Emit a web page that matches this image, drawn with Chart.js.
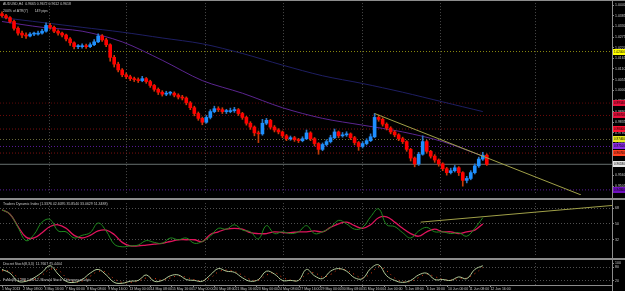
<!DOCTYPE html>
<html>
<head>
<meta charset="utf-8">
<script src="https://cdn.jsdelivr.net/npm/chart.js"></script>
<style>
  html, body { margin: 0; padding: 0; background: #000; }
  #wrap { position: relative; width: 625px; height: 291px; background: #000; overflow: hidden; }
  canvas { position: absolute; left: 0; }
  .sep { position: absolute; left: 0; width: 625px; height: 2px; background: #8c8c8c; }
  .vline { position: absolute; left: 612px; top: 0; width: 1px; height: 291px; background: #8c8c8c; }
</style>
</head>
<body>
<div id="wrap">
  <canvas id="main" width="625" height="198" style="top:0"></canvas>
  <canvas id="tdi" width="625" height="58" style="top:200px"></canvas>
  <canvas id="stoch" width="625" height="31" style="top:260px"></canvas>
  <div class="sep" style="top:0;height:1px"></div>
  <div class="sep" style="top:198px"></div>
  <div class="sep" style="top:258px"></div>
  <div class="vline"></div>
</div>
<script>
// ---- data (AUDUSD H4) ----
const firstOpen = 1.0395;
const closes = [
  1.0385,1.0375,1.0355,1.0320,1.0295,1.0285,1.0280,1.0290,1.0290,1.0295,
  1.0305,1.0335,1.0325,1.0305,1.0295,1.0285,1.0265,1.0245,1.0225,1.0225,
  1.0230,1.0225,1.0235,1.0250,1.0280,1.0260,1.0235,1.0170,1.0135,1.0105,
  1.0080,1.0070,1.0060,1.0055,1.0050,1.0060,1.0045,1.0025,1.0005,0.9990,
  0.9980,0.9985,0.9985,0.9975,0.9965,0.9960,0.9935,0.9910,0.9880,0.9855,
  0.9835,0.9860,0.9890,0.9905,0.9900,0.9890,0.9890,0.9895,0.9900,0.9880,
  0.9860,0.9830,0.9810,0.9780,0.9775,0.9830,0.9845,0.9810,0.9795,0.9785,
  0.9765,0.9750,0.9755,0.9745,0.9740,0.9750,0.9780,0.9750,0.9725,0.9695,
  0.9720,0.9735,0.9755,0.9785,0.9765,0.9770,0.9775,0.9755,0.9730,0.9710,
  0.9725,0.9740,0.9760,0.9860,0.9850,0.9825,0.9805,0.9785,0.9770,0.9750,
  0.9735,0.9695,0.9650,0.9620,0.9670,0.9735,0.9685,0.9660,0.9640,0.9620,
  0.9595,0.9575,0.9585,0.9600,0.9575,0.9535,0.9545,0.9575,0.9610,0.9645,
  0.9665,0.9618
];
const highs = [
  1.0405,1.0392,1.0380,1.0362,1.0328,1.0305,1.0296,1.0298,1.0300,1.0306,
  1.0315,1.0348,1.0345,1.0332,1.0312,1.0300,1.0290,1.0272,1.0250,1.0236,
  1.0240,1.0238,1.0245,1.0262,1.0292,1.0288,1.0268,1.0240,1.0180,1.0145,
  1.0112,1.0090,1.0078,1.0068,1.0064,1.0072,1.0066,1.0052,1.0030,1.0012,
  0.9998,0.9995,0.9994,0.9992,0.9982,0.9974,0.9966,0.9942,0.9918,0.9888,
  0.9862,0.9870,0.9900,0.9918,0.9915,0.9910,0.9902,0.9908,0.9912,0.9906,
  0.9886,0.9866,0.9838,0.9816,0.9790,0.9850,0.9855,0.9850,0.9818,0.9802,
  0.9790,0.9772,0.9764,0.9762,0.9752,0.9760,0.9795,0.9786,0.9756,0.9730,
  0.9728,0.9745,0.9768,0.9800,0.9790,0.9782,0.9786,0.9780,0.9762,0.9736,
  0.9735,0.9750,0.9775,0.9880,0.9872,0.9858,0.9832,0.9812,0.9792,0.9776,
  0.9758,0.9740,0.9700,0.9656,0.9680,0.9765,0.9742,0.9690,0.9668,0.9646,
  0.9626,0.9602,0.9598,0.9612,0.9606,0.9580,0.9556,0.9585,0.9620,0.9655,
  0.9680,0.9672
];
const lows = [
  1.0378,1.0368,1.0348,1.0310,1.0285,1.0272,1.0268,1.0275,1.0282,1.0284,
  1.0290,1.0300,1.0315,1.0298,1.0285,1.0276,1.0255,1.0232,1.0214,1.0215,
  1.0218,1.0216,1.0220,1.0230,1.0246,1.0252,1.0225,1.0150,1.0120,1.0095,
  1.0070,1.0060,1.0050,1.0045,1.0040,1.0044,1.0036,1.0015,0.9995,0.9978,
  0.9970,0.9972,0.9975,0.9966,0.9955,0.9950,0.9925,0.9900,0.9868,0.9845,
  0.9822,0.9830,0.9852,0.9884,0.9890,0.9880,0.9880,0.9884,0.9886,0.9870,
  0.9850,0.9820,0.9798,0.9765,0.9730,0.9768,0.9822,0.9800,0.9785,0.9775,
  0.9755,0.9740,0.9742,0.9736,0.9730,0.9734,0.9745,0.9740,0.9712,0.9670,
  0.9688,0.9712,0.9728,0.9750,0.9755,0.9758,0.9762,0.9745,0.9718,0.9690,
  0.9702,0.9718,0.9735,0.9755,0.9840,0.9815,0.9795,0.9775,0.9760,0.9740,
  0.9725,0.9685,0.9635,0.9605,0.9612,0.9665,0.9675,0.9650,0.9628,0.9608,
  0.9585,0.9562,0.9568,0.9578,0.9560,0.9505,0.9522,0.9538,0.9568,0.9602,
  0.9638,0.9612
];
// moving averages, one reading every 10 bars
const maSlow = [1.0375,1.0350,1.0325,1.0300,1.0270,1.0240,1.0190,1.0130,1.0075,1.0035,0.9990,0.9940,0.9890];
const maFast = [1.0355,1.0325,1.0305,1.0250,1.0155,1.0050,0.9985,0.9910,0.9855,0.9820,0.9785,0.9735,0.9660];
// horizontal levels
const levelPrices = [1.0200, 0.9934, 0.9870, 0.9800, 0.9746, 0.9710, 0.9676, 0.9486];
// trendlines [bar, value]
const priceTrend = [[93, 0.9880], [144.5, 0.9460]];
const tdiTrend = [[104.5, 52], [152.5, 71]];
// oscillators, one reading every 2 bars
const tdiFast = [66,61,46,31,38,52,55,42,41,34, 37,40,51,42,27,24,25,26,31,29,
  28,34,32,34,28,30,36,45,44,49, 43,41,33,48,39,41,39,41,48,39,
  41,46,54,50,44,46,58,67,49,47, 40,34,42,46,41,41,39,40,36,45, 57];
const tdiSlow = [66,61,47,35,34,40,47,49,45,37, 34,37,42,43,38,29,25,25,26,27,
  28,30,32,32,32,30,38,41,44,45, 44,40,39,39,41,40,40,41,41,42,
  41,46,50,52,48,45,49,57,58,52, 45,39,36,41,44,41,41,39,41,43, 50];
const stochMain = [71,54,17,17,33,58,88,50,17,12, 25,54,71,46,12,8,17,21,46,17,
  21,42,46,25,21,17,46,75,63,58, 33,17,25,63,50,21,21,21,71,42,
  29,63,75,63,33,29,75,92,42,21, 12,21,46,54,25,25,21,37,29,71, 88];
const stochSignal = [65,62,35,20,25,45,72,68,35,15, 18,40,62,58,28,12,12,18,32,30,
  22,32,42,35,24,20,32,60,68,62, 45,25,22,45,56,35,22,21,48,56,
  36,48,70,68,48,32,52,84,65,32, 16,16,34,50,38,26,22,30,32,52, 80];
const tdiLevels = [32, 50, 68];
const stochLevels = [20, 80, 100];
const dateLabels = ["1 May 2013","2 May 08:00","3 May 16:00","7 May 00:00","8 May 08:00","9 May 16:00",
  "13 May 00:00","14 May 08:00","15 May 16:00","17 May 00:00","20 May 08:00","21 May 16:00",
  "23 May 00:00","24 May 08:00","27 May 16:00","29 May 00:00","30 May 08:00","31 May 16:00",
  "4 Jun 00:00","5 Jun 08:00","6 Jun 16:00","10 Jun 00:00","11 Jun 08:00","12 Jun 16:00"];

// ---- layout ----
const X_MIN = -0.5, X_MAX = 152.25;
const gridAt = [11.75, 31, 50.75, 70.25, 90, 109.5, 133.25];
const OSC_STEP = 2, MA_STEP = 10, DATE_STEP = 5.3;
const FONT = "Liberation Sans";
const TXT = "#c8c8c8";

const levelLine = ["#8a8a10", "#5c0a0a", "#6e0a0a", "#7a1010", "#6a6a3a", "#5a1a9a", "#7a1010", "#5a1a9a"];
const levelBox = ["#ffff00", "#e8103c", "#e8103c", "#ff1030", "#e8e820", "#8a2be2", "#ff4020", "#7010c0"];

Chart.defaults.font.family = FONT;

const opens = [firstOpen, ...closes.slice(0, -1)];
const isUp = closes.map((c, i) => c >= opens[i]);
const lastClose = closes[closes.length - 1];

function gridAxis() {
  return {
    type: "linear", min: X_MIN, max: X_MAX, offset: false, position: "bottom",
    afterFit: (s) => { s.height = 0; },
    afterBuildTicks: (s) => { s.ticks = gridAt.map((v) => ({ value: v })); },
    ticks: { display: false },
    grid: { color: "#4a4a4a", lineWidth: 1, drawTicks: false, offset: false },
    border: { display: false, dash: [1, 2] },
  };
}

function rightAxis(min, max, tickValues, onArea, fmt) {
  return {
    position: "right", min, max,
    afterFit: (s) => { s.width = 13; },
    afterBuildTicks: (s) => { s.ticks = tickValues.map((v) => ({ value: v })); },
    ticks: { color: TXT, font: { size: 3.5 }, padding: 1, autoSkip: false, maxRotation: 0, callback: fmt },
    grid: {
      drawOnChartArea: onArea, tickLength: 2,
      color: (c) => (c.tick && c.tick.value === 100 ? "rgba(0,0,0,0)" : "#505050"),
      tickColor: "#8c8c8c",
    },
    border: { display: false, dash: [1, 2] },
  };
}

function textPlugin(lines) {
  return {
    id: "panelText",
    afterDraw(chart) {
      const ctx = chart.ctx;
      ctx.save();
      ctx.font = "3.5px " + FONT;
      ctx.fillStyle = TXT;
      ctx.textBaseline = "top";
      lines.forEach(([t, x, y]) => ctx.fillText(t, x, y));
      ctx.restore();
    },
  };
}

const baseOpts = {
  responsive: false,
  animation: false,
  events: [],
  layout: { padding: 0 },
  plugins: { legend: { display: false }, tooltip: { enabled: false } },
};

// price axis labels every 0.0055 from the top
const priceTicks = [];
for (let p = 1.0440; p > 0.9465; p -= 0.0055) priceTicks.push(+p.toFixed(4));

const priceBoxes = {
  id: "priceBoxes",
  afterDraw(chart) {
    const ctx = chart.ctx, y = chart.scales.y;
    ctx.save();
    ctx.font = "3.5px " + FONT;
    ctx.textBaseline = "middle";
    const boxes = levelPrices.map((p, i) => [p, levelBox[i]]).concat([[lastClose, "#e6e6e6"]]);
    boxes.forEach(([p, col]) => {
      const py = Math.round(y.getPixelForValue(p));
      ctx.fillStyle = col;
      ctx.fillRect(613, py - 3, 12, 6);
      ctx.fillStyle = "#000";
      ctx.fillText(p.toFixed(5), 614, py, 11);
    });
    ctx.restore();
  },
};

const levelSets = levelPrices.map((p, i) => ({
  type: "line", order: 6,
  data: [{ x: X_MIN, y: p }, { x: X_MAX, y: p }],
  borderColor: levelLine[i], borderWidth: 1, borderDash: [1, 2], pointRadius: 0,
}));

new Chart(document.getElementById("main"), {
  type: "bar",
  data: {
    datasets: [
      {
        type: "line", order: 0,
        data: priceTrend.map(([x, y]) => ({ x, y })),
        borderColor: "#a0a048", borderWidth: 1, pointRadius: 0,
      },
      {
        type: "bar", order: 1, grouped: false, barThickness: 3, minBarLength: 1, borderWidth: 0,
        data: closes.map((c, i) => ({ x: i, y: [opens[i], c] })),
        backgroundColor: isUp.map((u) => (u ? "#1e90ff" : "#ff0000")),
      },
      {
        type: "bar", order: 2, grouped: false, barThickness: 1, borderWidth: 0,
        data: closes.map((c, i) => ({ x: i, y: [lows[i], highs[i]] })),
        backgroundColor: isUp.map((u) => (u ? "#2a78c8" : "#c83c08")),
      },
      {
        type: "line", order: 3,
        data: maFast.map((v, k) => ({ x: k * MA_STEP, y: v })),
        borderColor: "#5b2590", borderWidth: 1, pointRadius: 0, tension: 0.3,
      },
      {
        type: "line", order: 4,
        data: maSlow.map((v, k) => ({ x: k * MA_STEP, y: v })),
        borderColor: "#1e1e62", borderWidth: 1, pointRadius: 0, tension: 0.3,
      },
      {
        type: "line", order: 5,
        data: [{ x: X_MIN, y: lastClose }, { x: X_MAX, y: lastClose }],
        borderColor: "#66706e", borderWidth: 1, pointRadius: 0,
      },
      ...levelSets,
    ],
  },
  options: {
    ...baseOpts,
    scales: {
      x: gridAxis(),
      y: rightAxis(0.946, 1.045, priceTicks, false, (v) => Number(v).toFixed(4)),
    },
  },
  plugins: [
    priceBoxes,
    textPlugin([
      ["AUDUSD,H4  0.9665 0.9672 0.9612 0.9618", 3, 2],
      ["200% of ATR(7)       149 pips", 3, 9],
    ]),
  ],
});

new Chart(document.getElementById("tdi"), {
  type: "line",
  data: {
    datasets: [
      {
        data: tdiTrend.map(([x, y]) => ({ x, y })),
        borderColor: "#a0a048", borderWidth: 1, pointRadius: 0,
      },
      {
        data: tdiFast.map((v, k) => ({ x: k * OSC_STEP, y: v })),
        borderColor: "#1f8a1f", borderWidth: 1, pointRadius: 0, tension: 0.4,
      },
      {
        data: tdiSlow.map((v, k) => ({ x: k * OSC_STEP, y: v })),
        borderColor: "#e0145c", borderWidth: 1.3, pointRadius: 0, tension: 0.4,
      },
    ],
  },
  options: {
    ...baseOpts,
    scales: {
      x: gridAxis(),
      y: rightAxis(14.8, 73.6, tdiLevels, true, (v) => String(v)),
    },
  },
  plugins: [textPlugin([["Traders Dynamic Index (1.3376 42.6095 35.8540 33.0629 51.3488)", 3, 2]])],
});

new Chart(document.getElementById("stoch"), {
  type: "line",
  data: {
    datasets: [
      {
        data: stochMain.map((v, k) => ({ x: k * OSC_STEP, y: v })),
        borderColor: "#b4cc9a", borderWidth: 1, pointRadius: 0, tension: 0.4,
      },
      {
        data: stochSignal.map((v, k) => ({ x: k * OSC_STEP, y: v })),
        borderColor: "#e83a10", borderWidth: 1, borderDash: [1, 4], pointRadius: 0, tension: 0.4,
      },
    ],
  },
  options: {
    ...baseOpts,
    scales: {
      x: {
        type: "linear", min: X_MIN, max: X_MAX, offset: false, position: "bottom",
        afterFit: (s) => { s.height = 6; },
        afterBuildTicks: (s) => { s.ticks = dateLabels.map((_, k) => ({ value: k * DATE_STEP })); },
        ticks: {
          color: TXT, font: { size: 3.5 }, align: "start", padding: 0,
          autoSkip: false, maxRotation: 0, minRotation: 0,
          callback: (v, k) => dateLabels[k],
        },
        grid: { drawOnChartArea: false, color: "#8c8c8c", tickLength: 2, offset: false },
        border: { display: true, color: "#8c8c8c" },
      },
      xg: gridAxis(),
      y: rightAxis(0, 100, stochLevels, true, (v) => String(v)),
    },
  },
  plugins: [textPlugin([
    ["Discret Stoch(8,3,3)  11.7667 75.4404", 3, 2],
    ["FoMo(8) 1.288 1.08 12  Manual Stoch  Divergence Logic", 3, 18],
  ])],
});
</script>
</body>
</html>
